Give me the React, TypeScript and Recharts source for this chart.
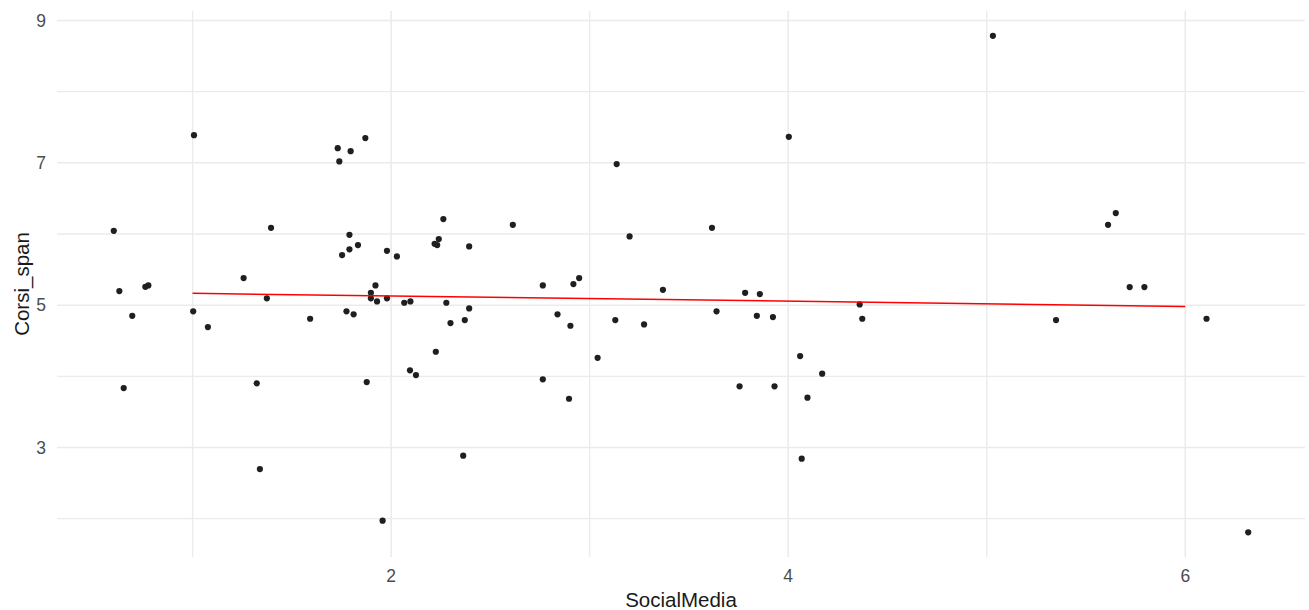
import React from 'react';
import { ScatterChart, Scatter, XAxis, YAxis, ReferenceLine } from 'recharts';

const socialMedia = [
  0.603, 0.631, 0.653, 0.696, 0.762, 0.777, 1.003, 1.007, 1.077, 1.257,
  1.323, 1.339, 1.374, 1.395, 1.592, 1.731, 1.739, 1.753, 1.775, 1.790,
  1.790, 1.796, 1.811, 1.833, 1.870, 1.877, 1.898, 1.898, 1.921, 1.929,
  1.957, 1.979, 1.979, 2.029, 2.066, 2.095, 2.097, 2.125, 2.219, 2.232,
  2.225, 2.240, 2.263, 2.278, 2.299, 2.363, 2.371, 2.393, 2.393, 2.613,
  2.764, 2.764, 2.838, 2.903, 2.896, 2.918, 2.947, 3.040, 3.129, 3.136,
  3.201, 3.274, 3.369, 3.616, 3.639, 3.755, 3.783, 3.842, 3.857, 3.923,
  3.931, 4.003, 4.060, 4.068, 4.097, 4.171, 4.360, 4.373, 5.031, 5.349,
  5.611, 5.650, 5.720, 5.794, 6.107, 6.317,
];

const corsiSpan = [
  6.045, 5.198, 3.836, 4.851, 5.258, 5.278, 4.913, 7.389, 4.692, 5.381,
  3.902, 2.698, 5.096, 6.087, 4.809, 7.206, 7.020, 5.704, 4.913, 5.989,
  5.784, 7.164, 4.871, 5.844, 7.347, 3.920, 5.174, 5.096, 5.278, 5.053,
  1.972, 5.764, 5.096, 5.685, 5.034, 4.084, 5.053, 4.018, 5.862, 5.844,
  4.346, 5.928, 6.209, 5.034, 4.749, 2.885, 4.791, 5.826, 4.955, 6.129,
  5.278, 3.958, 4.871, 4.711, 3.685, 5.296, 5.381, 4.261, 4.791, 6.982,
  5.966, 4.730, 5.216, 6.087, 4.913, 3.860, 5.174, 4.851, 5.156, 4.833,
  3.860, 7.365, 4.285, 2.843, 3.700, 4.037, 5.011, 4.809, 8.784, 4.791,
  6.129, 6.294, 5.254, 5.254, 4.809, 1.809,
];

const fitX = [1, 6];
const fitY = [5.166, 4.983];

const xMajorTicks = [2, 4, 6];
const xMinorTicks = [1, 3, 5];
const yMajorTicks = [3, 5, 7, 9];
const yMinorTicks = [2, 4, 6, 8];

const xDomain = [0.317, 6.603];
const yDomain = [1.462, 9.133];

const points = socialMedia.map((x, i) => ({ x, y: corsiSpan[i] }));
const fitLine = fitX.map((x, i) => ({ x, y: fitY[i] }));

const GRID = '#ebebeb';
const FONT = '"Liberation Sans", Arial, sans-serif';

const Dot = (props: any) => {
  const { cx, cy } = props;
  if (cx == null || cy == null) return <g />;
  return <circle cx={cx} cy={cy} r={3.1} fill="#1f1f1f" />;
};

const XTitle = (props: any) => {
  const vb = props.viewBox || {};
  return (
    <text
      x={vb.x + vb.width / 2}
      y={vb.y + vb.height - 3}
      textAnchor="middle"
      fontFamily={FONT}
      fontSize={20.5}
      fill="#1a1a1a"
    >
      SocialMedia
    </text>
  );
};

const YTitle = (props: any) => {
  const vb = props.viewBox || {};
  const x = vb.x + 29;
  const y = vb.y + vb.height / 2;
  return (
    <text
      x={x}
      y={y}
      transform={`rotate(-90 ${x} ${y})`}
      textAnchor="middle"
      fontFamily={FONT}
      fontSize={20.5}
      fill="#1a1a1a"
    >
      Corsi_span
    </text>
  );
};

export default function App() {
  return (
    <div style={{ position: 'absolute', left: 0, top: 0, width: 1309, height: 610, background: '#fff' }}>
      <ScatterChart
        width={1309}
        height={610}
        margin={{ top: 11, right: 4, bottom: 0, left: 0 }}
      >
        <XAxis
          type="number"
          dataKey="x"
          domain={xDomain}
          ticks={xMajorTicks}
          allowDataOverflow
          axisLine={false}
          tickLine={false}
          height={53}
          tickMargin={7}
          tick={{ fill: '#4d4d4d', fontSize: 17.5, fontFamily: FONT }}
          label={<XTitle />}
        />
        <YAxis
          type="number"
          dataKey="y"
          domain={yDomain}
          ticks={yMajorTicks}
          allowDataOverflow
          axisLine={false}
          tickLine={false}
          width={57}
          tickMargin={5}
          tick={{ fill: '#4d4d4d', fontSize: 17.5, fontFamily: FONT }}
          label={<YTitle />}
        />
        {xMinorTicks.map((v) => (
          <ReferenceLine key={'xm' + v} x={v} stroke={GRID} strokeWidth={1.3} />
        ))}
        {yMinorTicks.map((v) => (
          <ReferenceLine key={'ym' + v} y={v} stroke={GRID} strokeWidth={1.3} />
        ))}
        {xMajorTicks.map((v) => (
          <ReferenceLine key={'xM' + v} x={v} stroke={GRID} strokeWidth={1.6} />
        ))}
        {yMajorTicks.map((v) => (
          <ReferenceLine key={'yM' + v} y={v} stroke={GRID} strokeWidth={1.6} />
        ))}
        <Scatter
          data={points}
          shape={<Dot />}
          isAnimationActive={false}
        />
        <Scatter
          data={fitLine}
          line={{ stroke: '#ff0000', strokeWidth: 1.5 }}
          shape={() => <g />}
          isAnimationActive={false}
        />
      </ScatterChart>
    </div>
  );
}
